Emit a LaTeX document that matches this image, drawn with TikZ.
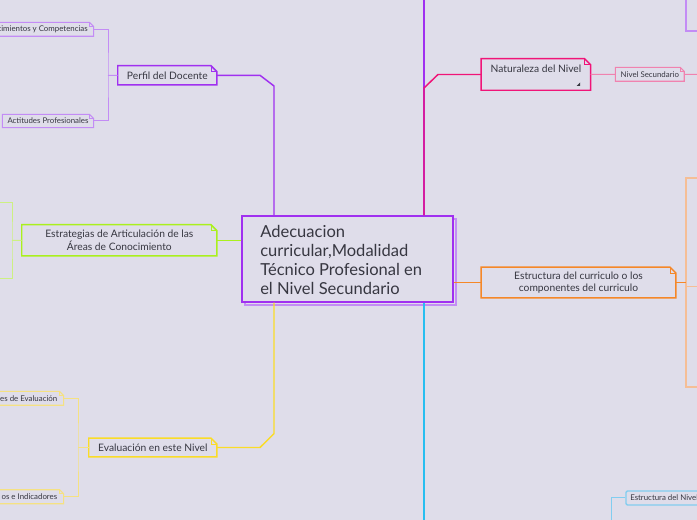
\documentclass[tikz,border=0pt]{standalone}
\usepackage{fontspec}
\setmainfont{Lato}
\usetikzlibrary{calc,fit}
\definecolor{bg}{RGB}{223,221,234}
\definecolor{txt}{RGB}{55,55,65}
\definecolor{pur}{RGB}{160,48,240}
\definecolor{purL}{RGB}{195,140,245}
\definecolor{pnk}{RGB}{240,20,120}
\definecolor{pnkL}{RGB}{240,130,175}
\definecolor{org}{RGB}{245,135,40}
\definecolor{orgL}{RGB}{245,190,150}
\definecolor{cya}{RGB}{40,190,240}
\definecolor{cyaL}{RGB}{130,205,240}
\definecolor{grn}{RGB}{170,240,30}
\definecolor{grnL}{RGB}{205,240,130}
\definecolor{yel}{RGB}{250,220,40}
\definecolor{yelL}{RGB}{245,225,130}
\newcommand\dogframe[3]{%
  \draw[#2] (#1.north west) -- ($(#1.north east)+(-#3,0)$) -- ($(#1.north east)+(0,#3)$) -- (#1.south east) -- (#1.south west) -- cycle;
  \draw[#2,line width=0.5pt] ($(#1.north east)+(-#3,0)$) |- ($(#1.north east)+(0,#3)$);}
\begin{document}
\begin{tikzpicture}[x=0.75pt,y=-0.75pt,
  box/.style={inner sep=0pt,draw=none},
  lbl/.style={inner sep=0pt,text=txt,align=center},
  bigfont/.style={font=\fontsize{7.7}{9.5}\selectfont},
  smallfont/.style={font=\fontsize{5.9}{7}\selectfont},
  mainline/.style={line width=1.1pt},
  subline/.style={line width=0.75pt},
  mainframe/.style={line width=1.1pt},
  subframe/.style={line width=0.8pt}]
\useasboundingbox (0,0) rectangle (697,520);
\fill[bg] (0,0) rectangle (697,520);
\clip (0,0) rectangle (697,520);

% ---------- coordinates for free ends
\coordinate (topend) at (424,0);
\coordinate (botend) at (424,520);
\coordinate (pkink1) at (260,75.3);
\coordinate (pkink2) at (274,86);
\coordinate (nkink1) at (424,88);
\coordinate (nkink2) at (438,74.5);
\coordinate (ekink1) at (260,447.5);
\coordinate (ekink2) at (274,433.7);

% ---------- central node
\draw[purL,line width=1pt,fill=bg] (245,219) rectangle (456,305);
\node[box,fit={(242,216) (453,302)},draw=pur,line width=1.1pt,fill=bg] (main) {};
\node[anchor=west,align=left,text=txt,inner sep=0pt,
      font=\fontsize{12.4}{14.25}\selectfont] (maintext) at (260,260)
  {Adecuacion\\curricular,Modalidad\\Técnico Profesional en\\el Nivel Secundario};

% ---------- main branch nodes
\node[box,fit={(118,66) (216.7,84.7)}] (perfil) {};
\node[lbl,bigfont] (perfiltext) at (perfil.center) {Perfil del Docente};
\node[box,fit={(22,225) (216.7,255.7)}] (estrat) {};
\node[lbl,bigfont] (estrattext) at (estrat.center) {Estrategias de Articulación de las\\Áreas de Conocimiento};
\node[box,fit={(89,438.3) (216.7,456.7)}] (eval) {};
\node[lbl,bigfont] (evaltext) at (eval.center) {Evaluación en este Nivel};
\node[box,fit={(481.3,59) (590.3,90)}] (natur) {};
\node[lbl,bigfont] (naturtext) at (536,68.5) {Naturaleza del Nivel};
\node[box,fit={(481.3,267.3) (675.7,297.7)}] (estr) {};
\node[lbl,bigfont] (estrtext) at (estr.center) {Estructura del curriculo o los\\componentes del curriculo};

% ---------- sub nodes
\node[box,fit={(-10,22.7) (93.3,36)}] (conoc) {};
\node[lbl,smallfont,anchor=east] (conoctext) at (88,29.5) {cimientos y Competencias};
\node[box,fit={(2.7,114.7) (93.3,127.3)}] (actit) {};
\node[lbl,smallfont] (actittext) at (actit.center) {Actitudes Profesionales};
\node[box,fit={(-10,391.7) (63.3,405)}] (evalA) {};
\node[lbl,smallfont,anchor=east] (evalAtext) at (57.5,398.3) {es de Evaluación};
\node[box,fit={(-10,490) (63.3,503.5)}] (evalB) {};
\node[lbl,smallfont,anchor=east] (evalBtext) at (57.5,496.8) {os e Indicadores};
\node[box,fit={(615.7,67.7) (684,81)}] (nivsec) {};
\node[lbl,smallfont] (nivsectext) at (nivsec.center) {Nivel Secundario};
\node[box,fit={(626,491) (712,505)},draw=cyaL,line width=1.1pt,rounded corners=1pt] (nivel) {};
\node[lbl,smallfont,anchor=west] (niveltext) at (630,498) {Estructura del Nivel};
\node[box,fit={(686,-10) (712,31)},draw=purL,line width=1pt] (topnode) {};
\node[box,fit={(686,178) (712,286.5)},draw=orgL,line width=1pt] (estrA) {};
\node[box,fit={(686,286.5) (712,387)},draw=orgL,line width=1pt] (estrB) {};

% ---------- connectors of main branches
\draw[pur,mainline] (topend) -- (main.north -| topend);
\draw[pur,mainline] (perfil.east) -- (pkink1) -- (pkink2) -- (main.north -| pkink2);
\draw[pnk,mainline] (main.north -| nkink1) -- (nkink1) -- (nkink2) -- (natur.west);
\draw[org,mainline] (estr.west -| main.east) -- (estr.west);
\draw[cya,mainline] (main.south -| botend) -- (botend);
\draw[grn,mainline] (estrat.east -| main.west) -- (estrat.east);
\draw[yel,mainline] (eval.east) -- (ekink1) -- (ekink2) -- (main.south -| ekink2);

% ---------- frames of main branch nodes
\dogframe{perfil}{pur,mainframe}{6}
\dogframe{estrat}{grn,mainframe}{6}
\dogframe{eval}{yel,mainframe}{6}
\dogframe{natur}{pnk,mainframe}{6}
\dogframe{estr}{org,mainframe}{6}
\fill[txt] (580,82.5) -- (580,86) -- (576.5,86) -- cycle;

% ---------- sub connectors
\coordinate (pb) at (108,75.3);
\draw[purL,subline] (perfil.west) -- (pb);
\draw[purL,subline] (conoc.east) -| (pb) |- (actit.east);
\coordinate (gb) at (12,240.3);
\draw[grnL,subline] (estrat.west) -- (gb);
\coordinate (gtop) at (-2,202.7);
\coordinate (gbot) at (-2,278.7);
\draw[grnL,subline] (gtop) -| (gb) |- (gbot);
\coordinate (yb) at (78,447.5);
\draw[yelL,subline] (eval.west) -- (yb);
\draw[yelL,subline] (evalA.east) -| (yb) |- (evalB.east);
\coordinate (nsend) at (700,74.3);
\draw[pnkL,subline] (natur.east) -- (nivsec.west);
\draw[pnkL,subline] (nivsec.east) -- (nsend);
\coordinate (ob) at (686,282.5);
\draw[org,subline] (estr.east) -- (ob);
\coordinate (cb) at (611,520);
\draw[cyaL,subline] (nivel.west) -| (cb);

% ---------- frames of sub nodes
\dogframe{conoc}{purL,subframe}{4}
\dogframe{actit}{purL,subframe}{4}
\dogframe{evalA}{yelL,subframe}{4}
\dogframe{evalB}{yelL,subframe}{4}
\dogframe{nivsec}{pnkL,subframe}{4}
\end{tikzpicture}
\end{document}
